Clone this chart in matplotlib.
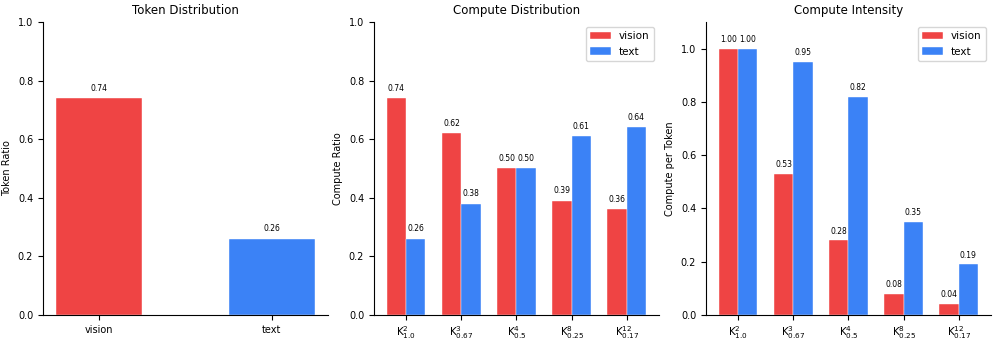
import numpy as np
import matplotlib
matplotlib.use("Agg")
import matplotlib.pyplot as plt

# data
token_labels = ["vision", "text"]
token_ratio = [0.74, 0.26]

configs = [r"$\mathrm{K}^{2}_{1.0}$", r"$\mathrm{K}^{3}_{0.67}$", r"$\mathrm{K}^{4}_{0.5}$",
           r"$\mathrm{K}^{8}_{0.25}$", r"$\mathrm{K}^{12}_{0.17}$"]
compute_vision = [0.74, 0.62, 0.50, 0.39, 0.36]
compute_text = [0.26, 0.38, 0.50, 0.61, 0.64]
intensity_vision = [1.00, 0.53, 0.28, 0.08, 0.04]
intensity_text = [1.00, 0.95, 0.82, 0.35, 0.19]

RED = "#EF4444"
BLUE = "#3B82F6"

plt.rcParams["mathtext.fontset"] = "dejavusans"
plt.rcParams["font.size"] = 7

fig = plt.figure(figsize=(9.97, 3.48), dpi=100)
ax1 = fig.add_axes([0.043, 0.095, 0.286, 0.842])
ax2 = fig.add_axes([0.375, 0.095, 0.286, 0.842])
ax3 = fig.add_axes([0.708, 0.095, 0.286, 0.842])

def label_bars(ax, xs, vals, off):
    for x, v in zip(xs, vals):
        ax.text(x, v + off, f"{v:.2f}", ha="center", va="bottom", fontsize=5.5)

# panel 1
x1 = np.arange(len(token_labels))
ax1.bar(x1, token_ratio, width=0.5, color=[RED, BLUE], edgecolor="white", linewidth=0.3)
label_bars(ax1, x1, token_ratio, 0.018)
ax1.set_xticks(x1)
ax1.set_xticklabels(token_labels)
ax1.set_ylim(0, 1.0)
ax1.set_ylabel("Token Ratio")
ax1.set_title("Token Distribution", fontsize=8.5)

# panel 2 and 3
x = np.arange(len(configs))
w = 0.35
for ax, v, t, top, yl, title in [
    (ax2, compute_vision, compute_text, 1.0, "Compute Ratio", "Compute Distribution"),
    (ax3, intensity_vision, intensity_text, 1.1, "Compute per Token", "Compute Intensity"),
]:
    ax.bar(x - w / 2, v, width=w, color=RED, edgecolor="white", linewidth=0.3, label="vision")
    ax.bar(x + w / 2, t, width=w, color=BLUE, edgecolor="white", linewidth=0.3, label="text")
    label_bars(ax, x - w / 2, v, 0.018)
    label_bars(ax, x + w / 2, t, 0.018)
    ax.set_xticks(x)
    ax.set_xticklabels(configs, fontsize=7.5)
    ax.set_ylim(0, top)
    ax.set_ylabel(yl)
    ax.set_title(title, fontsize=8.5)
    ax.legend(loc="upper right", fontsize=7.5)

for ax in (ax1, ax2, ax3):
    ax.spines["top"].set_visible(False)
    ax.spines["right"].set_visible(False)
    ax.tick_params(axis="y", labelsize=7)
ax1.tick_params(axis="x", labelsize=7)

fig.savefig("out.png", dpi=100)
